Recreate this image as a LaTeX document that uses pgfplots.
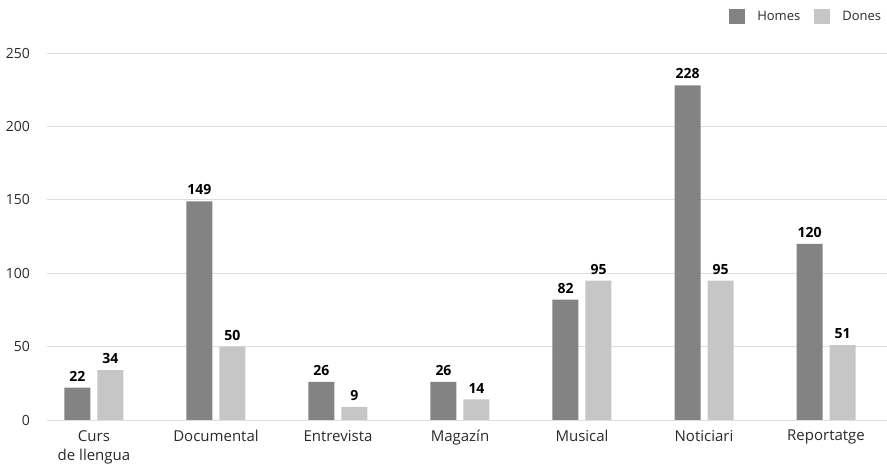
\documentclass[border=0pt]{standalone}
\usepackage{pgfplots}
\pgfplotsset{compat=1.18}
\usepackage{fontspec}
\setmainfont{Open Sans}
\definecolor{homes}{HTML}{838383}
\definecolor{dones}{HTML}{C6C6C6}
\definecolor{gridc}{HTML}{DEDEDE}
\definecolor{txt}{HTML}{2A2A2A}
\begin{document}
\begin{tikzpicture}
\useasboundingbox (-47bp,-50bp) rectangle (840bp,420bp);
\begin{axis}[
    at={(0,0)}, anchor=south west,
    scale only axis,
    width=840bp, height=367bp,
    xmin=-0.385, xmax=6.5,
    ymin=0, ymax=250,
    ytick={0,50,...,250},
    xtick={0,...,6},
    xticklabels={{Curs\\de llengua},Documental,Entrevista,Magazín,Musical,Noticiari,Reportatge},
    axis line style={draw=none},
    major tick length=0pt,
    ymajorgrids,
    grid style={gridc, line width=0.8bp},
    ybar=7bp, bar width=26bp,
    /pgf/number format/assume math mode=true,
    yticklabel style={anchor=east, inner sep=0pt, xshift=-17bp, text=txt,
        font=\fontsize{14bp}{16bp}\selectfont},
    xticklabel style={anchor=north, inner sep=0pt, yshift=-10bp, align=center, text=txt,
        font=\fontsize{15bp}{19bp}\selectfont},
    nodes near coords,
    every node near coord/.append style={inner sep=0pt, yshift=6bp, text=black,
        font=\fontsize{14bp}{16bp}\selectfont\bfseries},
    legend columns=2,
    legend style={draw=none, fill=none, at={(0.812,1)}, anchor=north west, yshift=44bp,
        inner sep=0pt, text=txt, font=\fontsize{13bp}{15bp}\selectfont,
        /tikz/every odd column/.append style={column sep=12bp},
        /tikz/every even column/.append style={column sep=14bp},
        nodes={inner sep=0pt}},
    legend image code/.code={\fill[#1] (0bp,-7.5bp) rectangle (16bp,7.5bp);},
]
\addplot[fill=homes, draw=none] coordinates {(0,22) (1,149) (2,26) (3,26) (4,82) (5,228) (6,120)};
\addlegendentry{Homes}
\addplot[fill=dones, draw=none] coordinates {(0,34) (1,50) (2,9) (3,14) (4,95) (5,95) (6,51)};
\addlegendentry{Dones}
\end{axis}
\end{tikzpicture}
\end{document}
